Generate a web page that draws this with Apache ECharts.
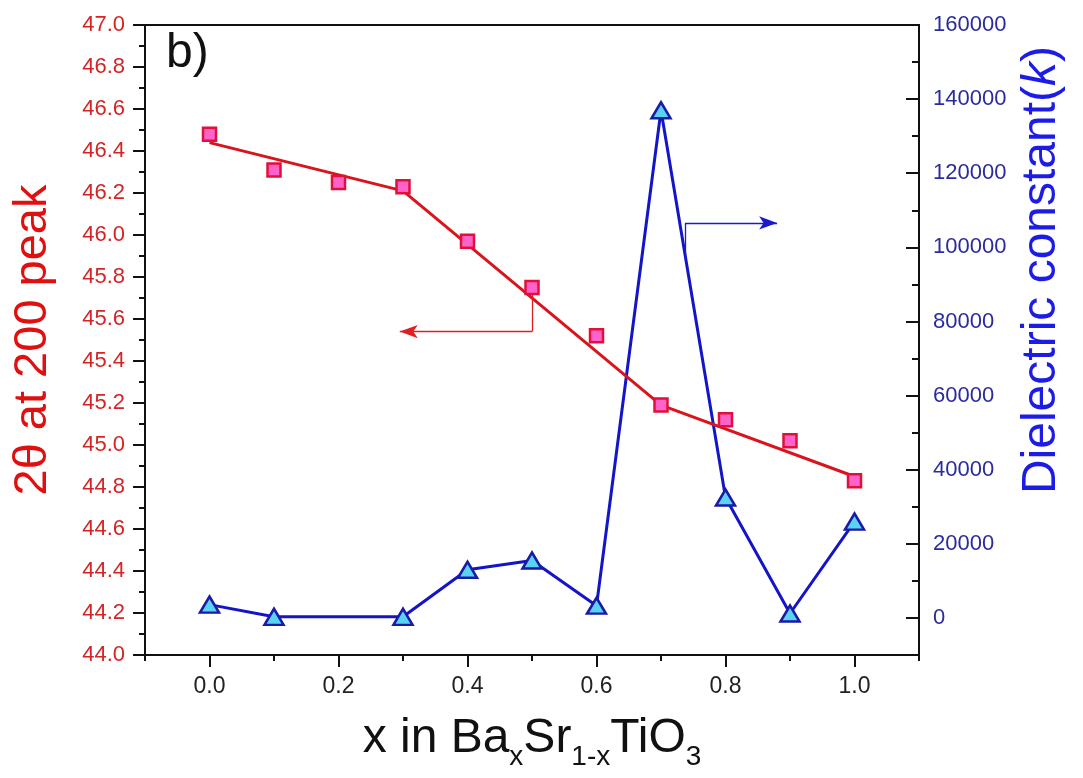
<!DOCTYPE html>
<html>
<head>
    <meta charset="UTF-8">
    <title>BST peak shift and dielectric constant</title>
    <script type="text/javascript" src="https://cdn.jsdelivr.net/npm/echarts@6/dist/echarts.min.js"></script>
</head>
<body style="margin: 0;overflow: hidden;background: #fff;width: 100%;height:100%; position: absolute;top: 0;">
<div id="chart" style="width: 1083px;height:778px"></div>
<script type="text/javascript">
    // measured 2theta of the (200) peak
    var xPeak = [0.0, 0.1, 0.2, 0.3, 0.4, 0.5, 0.6, 0.7, 0.8, 0.9, 1.0];
    var peak = [46.48, 46.31, 46.25, 46.23, 45.97, 45.75, 45.52, 45.19, 45.12, 45.02, 44.83];
    // guide line drawn through the peak data
    var xFit = [0.0, 0.3, 0.7, 1.0];
    var peakFit = [46.44, 46.21, 45.19, 44.85];
    // dielectric constant (no sample at x = 0.2)
    var xK = [0.0, 0.1, 0.3, 0.4, 0.5, 0.6, 0.7, 0.8, 0.9, 1.0];
    var kVal = [3600, 300, 300, 13000, 15500, 3300, 137000, 32500, 1200, 26000];
    // tick positions
    var xMajorTicks = [0.0, 0.2, 0.4, 0.6, 0.8, 1.0];
    var xMinorTicks = [-0.1, 0.1, 0.3, 0.5, 0.7, 0.9, 1.1];
    var kMajorTicks = [0, 20000, 40000, 60000, 80000, 100000, 120000, 140000, 160000];
    var kMinorTicks = [-10000, 10000, 30000, 50000, 70000, 90000, 110000, 130000, 150000];

    function pairs(xs, ys) {
        return xs.map(function (x, i) { return [x, ys[i]]; });
    }

    var font = '"Liberation Sans", Arial, sans-serif';
    var red = '#d9141c';
    var blue = '#1414c8';

    var chart = echarts.init(document.getElementById('chart'));
    var option = {
        animation: false,
        backgroundColor: '#fff',
        grid: {
            left: 145, right: 164, top: 25, bottom: 123,
            show: true, borderColor: '#111', borderWidth: 2
        },
        graphic: [{
            type: 'text', left: 166, top: 30,
            style: {text: 'b)', font: '48px ' + font, fill: '#111'}
        }],
        xAxis: [{
            type: 'value', min: -0.1, max: 1.1, position: 'bottom',
            axisLine: {onZero: false, lineStyle: {color: '#111', width: 2}},
            axisTick: {customValues: xMinorTicks, length: 6, lineStyle: {color: '#111', width: 2}},
            axisLabel: {
                customValues: xMajorTicks, margin: 20, color: '#222', fontSize: 23, fontFamily: font,
                formatter: function (v) { return v.toFixed(1); }
            },
            splitLine: {show: false},
            name: '{m|x in Ba}{s|x}{m|Sr}{s|1-x}{m|TiO}{s|3}',
            nameLocation: 'middle', nameGap: 52,
            nameTextStyle: {
                rich: {
                    m: {fontSize: 48, fontFamily: font, color: '#111', lineHeight: 56},
                    s: {fontSize: 28, fontFamily: font, color: '#111', padding: [36, 0, 0, 0]}
                }
            }
        }, {
            type: 'value', min: -0.1, max: 1.1, position: 'bottom',
            axisLine: {show: false, onZero: false},
            axisTick: {customValues: xMajorTicks, length: 12, lineStyle: {color: '#111', width: 2}},
            axisLabel: {show: false},
            splitLine: {show: false}
        }],
        yAxis: [{
            type: 'value', min: 44.0, max: 47.0, interval: 0.2, position: 'left',
            axisLine: {show: true, onZero: false, lineStyle: {color: '#111', width: 2}},
            axisTick: {length: 12, lineStyle: {color: '#111', width: 2}},
            minorTick: {show: true, splitNumber: 2, length: 6, lineStyle: {color: '#111', width: 2}},
            axisLabel: {
                margin: 20, color: '#d42424', fontSize: 22, fontFamily: font,
                formatter: function (v) { return v.toFixed(1); }
            },
            splitLine: {show: false},
            name: '2\u03b8 at 200 peak', nameLocation: 'middle', nameRotate: 90, nameGap: 88,
            nameTextStyle: {color: '#e01010', fontSize: 47, fontFamily: font}
        }, {
            type: 'value', min: -10000, max: 160000, position: 'right',
            axisLine: {show: true, onZero: false, lineStyle: {color: '#111', width: 2}},
            axisTick: {inside: true, customValues: kMajorTicks, length: 13, lineStyle: {color: '#111', width: 2}},
            axisLabel: {
                customValues: kMajorTicks, margin: 14, color: '#2b2b9e', fontSize: 22, fontFamily: font,
                formatter: function (v) { return String(v); }
            },
            splitLine: {show: false},
            name: '{a|Dielectric constant(}{i|k}{a|)}', nameLocation: 'middle', nameRotate: 90, nameGap: 64,
            nameTextStyle: {
                padding: [0, 0, 0, 140],
                rich: {
                    a: {color: '#1c1ce6', fontSize: 48, fontFamily: font},
                    i: {color: '#1c1ce6', fontSize: 48, fontFamily: font, fontStyle: 'italic'}
                }
            }
        }, {
            type: 'value', min: -10000, max: 160000, position: 'right',
            axisLine: {show: false, onZero: false},
            axisTick: {inside: true, customValues: kMinorTicks, length: 7, lineStyle: {color: '#111', width: 2}},
            axisLabel: {show: false},
            splitLine: {show: false}
        }],
        series: [{
            name: 'k',
            type: 'line',
            xAxisIndex: 0, yAxisIndex: 1,
            data: pairs(xK, kVal),
            symbol: 'triangle', symbolSize: [19, 16],
            lineStyle: {color: blue, width: 3},
            itemStyle: {color: '#5ad2f2', borderColor: '#1a1aa8', borderWidth: 2.5},
            z: 3,
            markLine: {
                silent: true, animation: false,
                label: {show: false},
                lineStyle: {color: '#1a1ad0', width: 1.3, type: 'solid'},
                symbolSize: [10, 18],
                data: [
                    [{coord: [0.738, 96500], symbol: 'none'}, {coord: [0.738, 106600], symbol: 'none'}],
                    [{coord: [0.738, 106600], symbol: 'none'}, {coord: [0.88, 106600], symbol: 'arrow'}]
                ]
            }
        }, {
            name: 'fit',
            type: 'line',
            xAxisIndex: 0, yAxisIndex: 0,
            data: pairs(xFit, peakFit),
            showSymbol: false,
            lineStyle: {color: red, width: 3},
            z: 4
        }, {
            name: 'peak',
            type: 'scatter',
            xAxisIndex: 0, yAxisIndex: 0,
            data: pairs(xPeak, peak),
            symbol: 'rect', symbolSize: 13,
            itemStyle: {color: '#ff62c8', borderColor: '#e0103a', borderWidth: 2.5, opacity: 1},
            z: 5,
            markLine: {
                silent: true, animation: false,
                label: {show: false},
                lineStyle: {color: '#e02020', width: 1.3, type: 'solid'},
                symbolSize: [10, 18],
                data: [
                    [{coord: [0.5, 45.73], symbol: 'none'}, {coord: [0.5, 45.54], symbol: 'none'}],
                    [{coord: [0.5, 45.54], symbol: 'none'}, {coord: [0.295, 45.54], symbol: 'arrow'}]
                ]
            }
        }]
    };
    chart.setOption(option);
</script>
</body>
</html>
